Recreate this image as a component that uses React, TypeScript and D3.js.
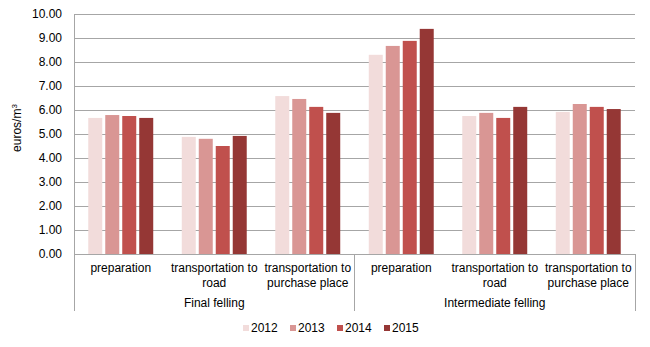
import React from "react";
import * as d3 from "d3";

const groups = ["Final felling", "Intermediate felling"];
const categories = [
  ["preparation"],
  ["transportation to", "road"],
  ["transportation to", "purchase place"],
];
const years = ["2012", "2013", "2014", "2015"];
const colors = ["#F2DCDB", "#D99694", "#C0504D", "#953735"];
// values per year, in order: Final (prep, road, purchase), Intermediate (prep, road, purchase)
const v2012 = [5.67, 4.88, 6.58, 8.3, 5.75, 5.92];
const v2013 = [5.79, 4.8, 6.46, 8.67, 5.88, 6.25];
const v2014 = [5.75, 4.5, 6.13, 8.88, 5.67, 6.13];
const v2015 = [5.67, 4.92, 5.88, 9.38, 6.13, 6.04];
const series = [v2012, v2013, v2014, v2015];
const yTicks = [0, 1, 2, 3, 4, 5, 6, 7, 8, 9, 10];

const FONT = "'Liberation Sans', Arial, sans-serif";

export default function App() {
  const W = 650, H = 347;
  const left = 74, right = 635, top = 14, bottom = 254;
  const cats = groups.flatMap((g, gi) => categories.map((c, ci) => ({ g, gi, ci, label: c, key: `${gi}-${ci}` })));
  const x = d3.scaleBand<string>().domain(cats.map((c) => c.key)).range([left, right]).padding(0);
  const xi = d3.scaleBand<string>().domain(years).range([0, x.bandwidth()]).paddingInner(0.176).paddingOuter(0.84);
  const y = d3.scaleLinear().domain([0, 10]).range([bottom, top]);
  const groupW = x.bandwidth() * categories.length;
  const fs = 12;

  return (
    <svg width={W} height={H} style={{ position: "absolute", left: 0, top: 0, background: "#fff" }} fontFamily={FONT}>
      {yTicks.map((t) => (
        <g key={t}>
          {t > 0 && <line x1={left} x2={right} y1={y(t)} y2={y(t)} stroke="#A6A6A6" strokeWidth={1} shapeRendering="crispEdges" />}
          <text x={62} y={y(t)} dy="0.35em" textAnchor="end" fontSize={fs} fill="#000">{t.toFixed(2)}</text>
        </g>
      ))}
      {cats.map((c, i) => (
        <g key={c.key}>
          {years.map((yr, si) => {
            const v = series[si][i];
            return (
              <rect key={yr} x={(x(c.key) as number) + (xi(yr) as number)} y={y(v)} width={xi.bandwidth()} height={y(0) - y(v)} fill={colors[si]} />
            );
          })}
          {c.label.map((line, li) => (
            <text key={li} x={(x(c.key) as number) + x.bandwidth() / 2} y={272 + li * 15} textAnchor="middle" fontSize={fs} fill="#000">{line}</text>
          ))}
        </g>
      ))}
      {groups.map((g, gi) => (
        <text key={g} x={left + groupW * gi + groupW / 2} y={307} textAnchor="middle" fontSize={fs} fill="#000">{g}</text>
      ))}
      <line x1={left} x2={left} y1={top} y2={311} stroke="#A6A6A6" shapeRendering="crispEdges" />
      <line x1={left} x2={right} y1={bottom} y2={bottom} stroke="#A6A6A6" shapeRendering="crispEdges" />
      {[1, 2].map((k) => (
        <line key={k} x1={left + groupW * k} x2={left + groupW * k} y1={bottom} y2={311} stroke="#A6A6A6" shapeRendering="crispEdges" />
      ))}
      <text transform={`translate(21,${(top + bottom) / 2 - 6}) rotate(-90)`} textAnchor="middle" fontSize={fs} fill="#000">
        euros/m<tspan fontSize={8} dy={-4}>3</tspan>
      </text>
      {years.map((yr, si) => (
        <g key={yr} transform={`translate(${243 + si * 47},328)`}>
          <rect x={0} y={-3} width={6} height={6} fill={colors[si]} />
          <text x={8} y={0} dy="0.35em" fontSize={fs} fill="#000">{yr}</text>
        </g>
      ))}
    </svg>
  );
}
